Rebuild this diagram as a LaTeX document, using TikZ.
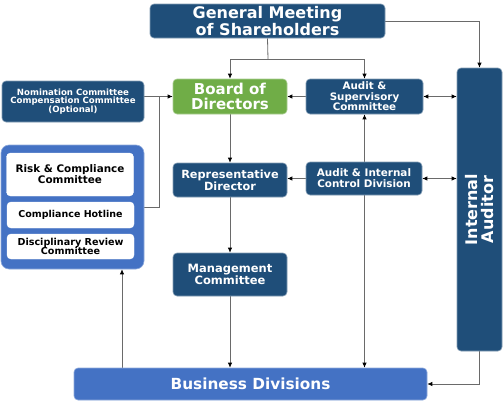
\documentclass[tikz,border=0pt]{standalone}
\usepackage{fontspec}
\setmainfont{DejaVu Sans}
\usetikzlibrary{arrows.meta,backgrounds}
\definecolor{dblue}{HTML}{1F4E79}
\definecolor{gbox}{HTML}{70AD47}
\definecolor{mblue}{HTML}{4472C4}
\definecolor{lgray}{HTML}{6A6A6A}
\begin{document}
\begin{tikzpicture}[x=1pt,y=-1pt,
  base/.style={rounded corners=4pt, align=center, inner sep=0pt, font=\bfseries},
  dark/.style={base, fill=dblue, draw=dblue!55!white, line width=0.6pt, text=white},
  green/.style={base, fill=gbox, draw=gbox!60!white, line width=0.6pt, text=white},
  blue/.style={base, fill=mblue, draw=mblue!60!white, line width=0.6pt, text=white},
  white/.style={base, fill=white, draw=white, text=black},
  conn/.style={draw=lgray, line width=0.8pt},
  arr/.style={conn, -{Latex[length=5pt,width=4.5pt,color=black]}},
  darr/.style={conn, {Latex[length=5pt,width=4.5pt,color=black]}-{Latex[length=5pt,width=4.5pt,color=black]}}]
\useasboundingbox (0,0) rectangle (504,402);

\node[dark, minimum width=235pt, minimum height=34pt, font=\bfseries\fontsize{16}{16.5}\selectfont] (gms) at (267.5,21) {General Meeting\\of Shareholders};
\node[green, minimum width=114pt, minimum height=35pt, font=\bfseries\fontsize{15}{15.5}\selectfont] (board) at (230,96.5) {Board of\\Directors};
\node[dark, minimum width=117pt, minimum height=35pt, font=\bfseries\fontsize{10.3}{10.5}\selectfont] (asc) at (364.5,96.5) {Audit \&\\Supervisory\\Committee};
\node[dark, minimum width=142pt, minimum height=41pt, font=\bfseries\fontsize{8.6}{8.8}\selectfont] (nom) at (73,101.5) {Nomination Committee\\Compensation Committee\\(Optional)};
\node[dark, rotate=90, minimum width=283pt, minimum height=45pt, font=\bfseries\fontsize{16}{16.5}\selectfont] (ia) at (479.5,209.5) {Internal\\Auditor};
\node[dark, minimum width=114pt, minimum height=34pt, font=\bfseries\fontsize{11.3}{12}\selectfont] (rep) at (230,180) {Representative\\Director};
\node[dark, minimum width=116pt, minimum height=33pt, font=\bfseries\fontsize{10.4}{11}\selectfont] (aic) at (364,178.5) {Audit \& Internal\\Control Division};
\node[dark, minimum width=114pt, minimum height=43pt, font=\bfseries\fontsize{11.5}{12}\selectfont] (mgmt) at (230,274.5) {Management\\Committee};
\node[blue, minimum width=353pt, minimum height=32pt, font=\bfseries\fontsize{15.3}{16}\selectfont] (bd) at (250.5,384) {Business Divisions};
\node[base, fill=mblue, draw=mblue!60!white, line width=0.6pt, rounded corners=8pt, minimum width=143pt, minimum height=124pt] (outer) at (72.5,207) {};
\node[white, minimum width=127pt, minimum height=43pt, font=\bfseries\fontsize{10.4}{10.8}\selectfont] (risk) at (70,174.5) {Risk \& Compliance\\Committee};
\node[white, minimum width=127pt, minimum height=26pt, font=\bfseries\fontsize{9.5}{10}\selectfont] (hot) at (70.5,215) {Compliance Hotline};
\node[white, minimum width=127pt, minimum height=25pt, font=\bfseries\fontsize{9.6}{9.8}\selectfont] (disc) at (70.5,246.5) {Disciplinary Review\\Committee};

\coordinate (j) at (268,59);
\coordinate (k) at (159,96.5);
\coordinate (bdc) at (122,368);
\coordinate (iac) at (479.5,384);

\begin{scope}[on background layer]
\fill[white] (0,0) rectangle (504,402);
\draw[conn] (gms.south) -- (j);
\draw[arr] (j) -| (board.north);
\draw[arr] (j) -| (asc.north);
\draw[arr] (gms.east) -| (ia.east);
\draw[darr] (asc.east) -- (asc.east -| ia.north);
\draw[arr] (asc.west) -- (board.east);
\draw[arr] (nom.east |- board.west) -- (board.west);
\draw[conn] (outer.east) -| (k);
\draw[arr] (board.south) -- (rep.north);
\draw[arr] (rep.south) -- (mgmt.north);
\draw[arr] (mgmt.south) -- (mgmt.south |- bd.north);
\draw[arr] (aic.west) -- (aic.west -| rep.east);
\draw[darr] (aic.east) -- (aic.east -| ia.north);
\draw[darr] (asc.south) -- (asc.south |- bd.north);
\draw[conn] (ia.west) -- (iac);
\draw[arr] (iac) -- (bd.east);
\draw[arr] (bdc) -- (bdc |- outer.south);
\end{scope}
\end{tikzpicture}
\end{document}
